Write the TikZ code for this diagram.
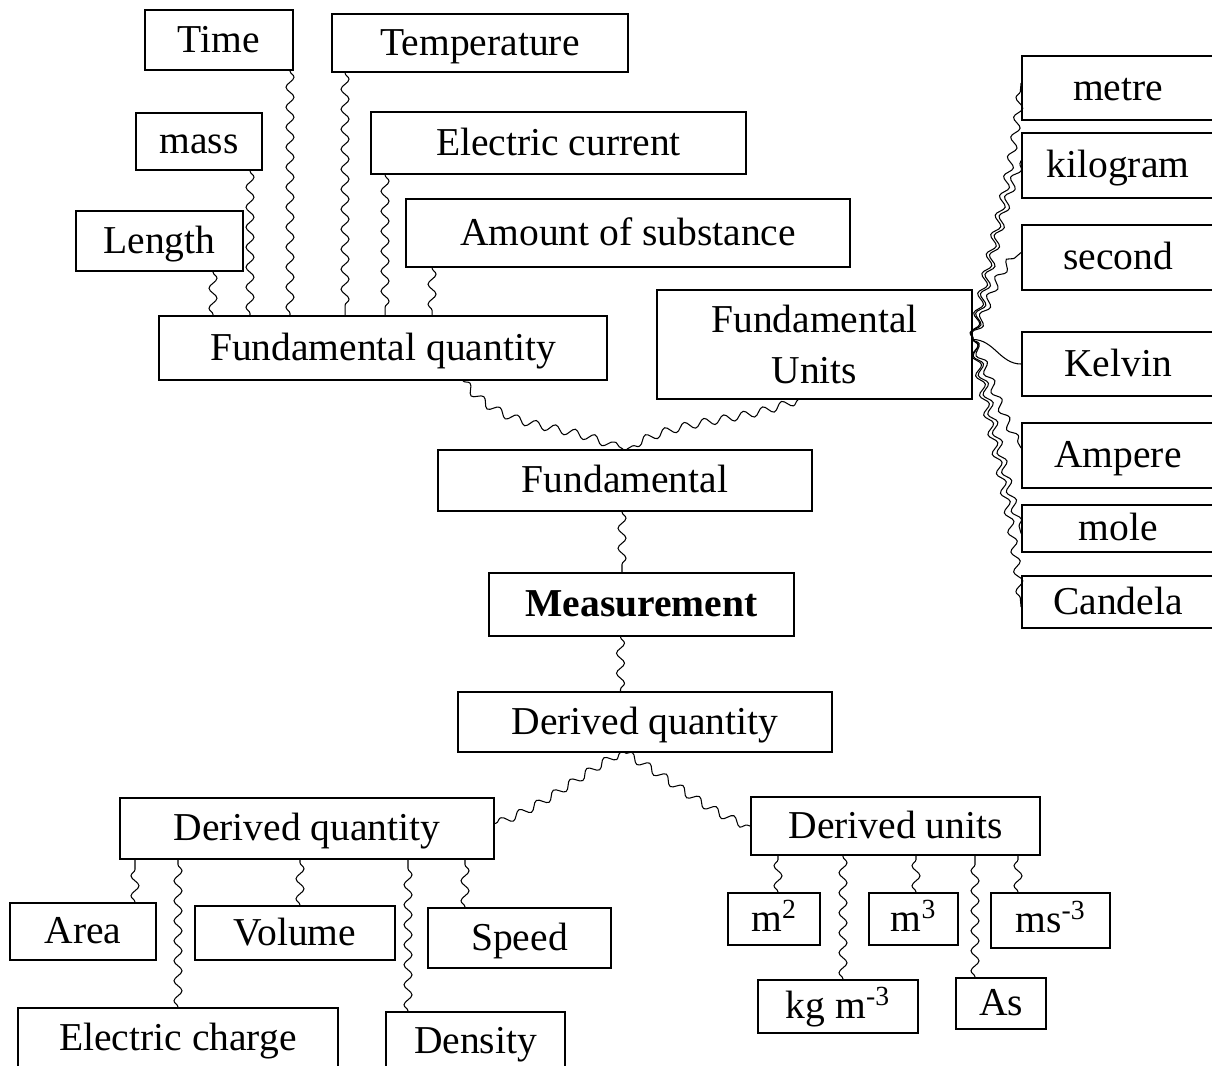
\documentclass[tikz,border=0pt]{standalone}
\usepackage{fontspec}
\setmainfont{Liberation Serif}
\usetikzlibrary{decorations.pathmorphing}
\tikzset{
  box/.style={draw, line width=1.1pt, inner sep=0pt, text height=20pt, text depth=5.8pt, font=\fontsize{22.5}{27}\selectfont},
  wave/.style={line width=0.6pt, decorate, decoration={snake, amplitude=0.08cm, segment length=0.4cm}}
}

\begin{document}
\begin{tikzpicture}[x=0.02cm, y=-0.02cm]
\useasboundingbox (0,0) rectangle (1212,1065);
% fundamental quantities
\node(time) at (219,40)[box, minimum width=2.96cm, minimum height=1.2cm] {Time};
\node(temp) at (480,43)[box, minimum width=5.92cm, minimum height=1.16cm] {Temperature};
\node(mass) at (199,141.5)[box, minimum width=2.52cm, minimum height=1.14cm] {mass};
\node(cur) at (558.5,143)[box, minimum width=7.5cm, minimum height=1.24cm] {Electric current};
\node(len) at (159.5,241)[box, minimum width=3.34cm, minimum height=1.2cm] {Length};
\node(amt) at (628,233)[box, minimum width=8.88cm, minimum height=1.36cm] {Amount of substance};
\node(fq) at (383,348)[box, minimum width=8.96cm, minimum height=1.28cm] {Fundamental quantity};
\node(fu) at (814.5,344.5)[draw, line width=1.1pt, minimum width=6.3cm, minimum height=2.18cm, align=center, font=\fontsize{22.5}{29.5}\selectfont] {Fundamental\\Units};
% fundamental units
\node(metre) at (1118,88)[box, minimum width=3.84cm, minimum height=1.28cm] {metre};
\node(kg) at (1118,165.5)[box, minimum width=3.84cm, minimum height=1.3cm] {kilogram};
\node(sec) at (1118,257.5)[box, minimum width=3.84cm, minimum height=1.3cm] {second};
\node(kel) at (1118,364)[box, minimum width=3.84cm, minimum height=1.28cm] {Kelvin};
\node(amp) at (1118,455.5)[box, minimum width=3.84cm, minimum height=1.3cm] {Ampere};
\node(mole) at (1118,528.5)[box, minimum width=3.84cm, minimum height=0.94cm] {mole};
\node(cd) at (1118,602)[box, minimum width=3.84cm, minimum height=1.04cm] {Candela};
% middle column
\node(fund) at (625,480.5)[box, minimum width=7.48cm, minimum height=1.22cm] {Fundamental};
\node(meas) at (641.5,604.5)[box, minimum width=6.1cm, minimum height=1.26cm] {\textbf{Measurement}};
\node(dq) at (645,722)[box, minimum width=7.48cm, minimum height=1.2cm] {Derived quantity};
% derived quantities
\node(dql) at (307,828.5)[box, minimum width=7.48cm, minimum height=1.22cm] {Derived quantity};
\node(area) at (83,931.5)[box, minimum width=2.92cm, minimum height=1.14cm] {Area};
\node(vol) at (295,933)[box, minimum width=4cm, minimum height=1.08cm] {Volume};
\node(speed) at (519.5,938)[box, minimum width=3.66cm, minimum height=1.2cm] {Speed};
\node(charge) at (178,1038)[box, minimum width=6.4cm, minimum height=1.2cm] {Electric charge};
\node(dens) at (475.5,1041)[box, minimum width=3.58cm, minimum height=1.16cm] {Density};
% derived units
\node(du) at (895.5,826)[box, minimum width=5.78cm, minimum height=1.16cm] {Derived units};
\node(msq) at (774,919)[box, minimum width=1.84cm, minimum height=1.04cm] {m\textsuperscript{2}};
\node(mcub) at (913.5,919)[box, minimum width=1.78cm, minimum height=1.04cm] {m\textsuperscript{3}};
\node(mspeed) at (1050.5,920.5)[box, minimum width=2.38cm, minimum height=1.1cm] {ms\textsuperscript{-3}};
\node(kgm) at (838,1006.5)[box, minimum width=3.2cm, minimum height=1.06cm] {kg m\textsuperscript{-3}};
\node(asec) at (1001,1003.5)[box, minimum width=1.8cm, minimum height=1.02cm] {As};
% quantities to fundamental quantity
\draw[wave] ([xshift=1.07cm]len.south) -- ([xshift=1.07cm]len.south |- fq.north);
\draw[wave] ([xshift=1.02cm]mass.south) -- ([xshift=1.02cm]mass.south |- fq.north);
\draw[wave] ([xshift=1.42cm]time.south) -- ([xshift=1.42cm]time.south |- fq.north);
\draw[wave] ([xshift=-2.7cm]temp.south) -- ([xshift=-2.7cm]temp.south |- fq.north);
\draw[wave] ([xshift=-3.47cm]cur.south) -- ([xshift=-3.47cm]cur.south |- fq.north);
\draw[wave] ([xshift=-3.92cm]amt.south) -- ([xshift=-3.92cm]amt.south |- fq.north);
% units to fundamental units
\draw[wave] ([yshift=0.1cm]fu.east) to[out=80, in=-95] ([yshift=0.1cm]metre.west);
\draw[wave] ([yshift=0.1cm]fu.east) to[out=75, in=-110] ([yshift=0.1cm]kg.west);
\draw[wave] ([yshift=0.1cm]fu.east) to[out=65, in=-140] ([yshift=0.1cm]sec.west);
\draw[line width=0.6pt] ([yshift=0.1cm]fu.east) to[out=0, in=180] (kel.west);
\draw[wave] ([yshift=0.1cm]fu.east) to[out=-65, in=120] ([yshift=0.15cm]amp.west);
\draw[wave] ([yshift=0.1cm]fu.east) to[out=-75, in=105] ([yshift=-0.1cm]mole.west);
\draw[wave] ([yshift=0.1cm]fu.east) to[out=-80, in=95] ([yshift=-0.1cm]cd.west);
% middle column
\draw[wave] ([xshift=1.6cm]fq.south) to[out=-50, in=150] ([xshift=-0.04cm]fund.north);
\draw[wave] ([xshift=-0.33cm]fu.south) to[out=-160, in=30] ([xshift=0.04cm]fund.north);
\draw[wave] ([xshift=-0.06cm]fund.south) -- ([xshift=-0.06cm]fund.south |- meas.north);
\draw[wave] ([xshift=-0.42cm]meas.south) -- ([xshift=-0.42cm]meas.south |- dq.north);
\draw[wave] ([xshift=-0.5cm]dq.south) to[out=-150, in=20] ([yshift=0.1cm]dql.east);
\draw[wave] ([xshift=-0.4cm]dq.south) to[out=-30, in=160] (du.west);
% derived quantities
\draw[wave] ([xshift=1.04cm]area.north) -- ([xshift=1.04cm]area.north |- dql.south);
\draw[wave] (charge.north) -- (charge.north |- dql.south);
\draw[wave] ([xshift=0.1cm]vol.north) -- ([xshift=0.1cm]vol.north |- dql.south);
\draw[wave] ([xshift=-1.35cm]dens.north) -- ([xshift=-1.35cm]dens.north |- dql.south);
\draw[wave] ([xshift=-1.09cm]speed.north) -- ([xshift=-1.09cm]speed.north |- dql.south);
% derived units
\draw[wave] ([xshift=0.08cm]msq.north) -- ([xshift=0.08cm]msq.north |- du.south);
\draw[wave] ([xshift=0.1cm]kgm.north) -- ([xshift=0.1cm]kgm.north |- du.south);
\draw[wave] ([xshift=0.05cm]mcub.north) -- ([xshift=0.05cm]mcub.north |- du.south);
\draw[wave] ([xshift=-0.52cm]asec.north) -- ([xshift=-0.52cm]asec.north |- du.south);
\draw[wave] ([xshift=-0.65cm]mspeed.north) -- ([xshift=-0.65cm]mspeed.north |- du.south);
\end{tikzpicture}
\end{document}
